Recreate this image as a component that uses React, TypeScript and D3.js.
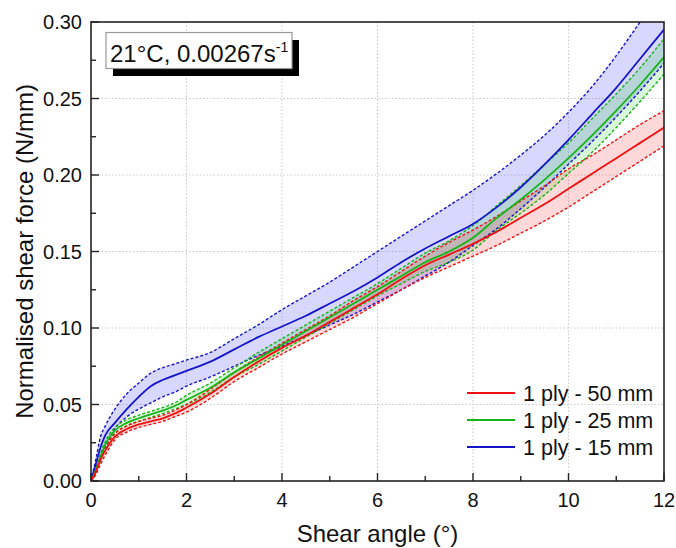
import React from "react";
import * as d3 from "d3";

const angles = [0, 0.1, 0.2, 0.3, 0.5, 0.75, 1.0, 1.25, 1.5, 1.75, 2.0, 2.5, 3.0, 3.5, 4.0, 4.5, 5.0, 5.5, 6.0, 6.5, 7.0, 7.5, 8.0, 8.5, 9.0, 9.5, 10.0, 10.5, 11.0, 11.5, 12.0];

const red50Mean = [0, 0.006, 0.014, 0.020, 0.029, 0.034, 0.037, 0.039, 0.041, 0.044, 0.048, 0.057, 0.068, 0.078, 0.087, 0.095, 0.104, 0.113, 0.122, 0.132, 0.141, 0.148, 0.155, 0.163, 0.172, 0.181, 0.191, 0.201, 0.211, 0.221, 0.231];
const red50Upper = [0, 0.008, 0.016, 0.022, 0.031, 0.036, 0.039, 0.041, 0.043, 0.046, 0.050, 0.060, 0.071, 0.081, 0.090, 0.099, 0.108, 0.118, 0.127, 0.137, 0.147, 0.156, 0.164, 0.173, 0.183, 0.193, 0.204, 0.213, 0.223, 0.233, 0.242];
const red50Lower = [0, 0.004, 0.011, 0.017, 0.027, 0.032, 0.035, 0.037, 0.039, 0.042, 0.045, 0.054, 0.065, 0.074, 0.083, 0.091, 0.099, 0.107, 0.116, 0.125, 0.133, 0.140, 0.147, 0.154, 0.162, 0.170, 0.179, 0.189, 0.199, 0.209, 0.219];

const green25Mean = [0, 0.007, 0.016, 0.024, 0.033, 0.038, 0.041, 0.0435, 0.046, 0.049, 0.053, 0.061, 0.071, 0.080, 0.089, 0.098, 0.107, 0.116, 0.125, 0.134, 0.143, 0.150, 0.159, 0.172, 0.184, 0.197, 0.211, 0.226, 0.242, 0.259, 0.277];
const green25Upper = [0, 0.009, 0.018, 0.026, 0.035, 0.040, 0.043, 0.0455, 0.048, 0.051, 0.056, 0.064, 0.074, 0.084, 0.093, 0.102, 0.111, 0.120, 0.129, 0.139, 0.149, 0.157, 0.167, 0.180, 0.193, 0.207, 0.221, 0.237, 0.253, 0.270, 0.289];
const green25Lower = [0, 0.005, 0.014, 0.022, 0.031, 0.036, 0.039, 0.0415, 0.044, 0.047, 0.050, 0.058, 0.068, 0.076, 0.085, 0.094, 0.103, 0.112, 0.121, 0.129, 0.137, 0.143, 0.151, 0.164, 0.175, 0.187, 0.201, 0.215, 0.231, 0.248, 0.266];

const blue15Mean = [0, 0.011, 0.022, 0.030, 0.038, 0.047, 0.055, 0.062, 0.066, 0.069, 0.072, 0.078, 0.086, 0.094, 0.101, 0.108, 0.116, 0.124, 0.133, 0.143, 0.152, 0.160, 0.168, 0.179, 0.192, 0.207, 0.223, 0.240, 0.257, 0.276, 0.295];
const blue15Upper = [0, 0.014, 0.029, 0.036, 0.047, 0.057, 0.064, 0.0705, 0.074, 0.0765, 0.079, 0.084, 0.093, 0.102, 0.112, 0.121, 0.130, 0.140, 0.150, 0.160, 0.170, 0.180, 0.190, 0.201, 0.213, 0.226, 0.241, 0.258, 0.278, 0.300, 0.322];
const blue15Lower = [0, 0.006, 0.014, 0.022, 0.034, 0.042, 0.047, 0.051, 0.055, 0.058, 0.062, 0.068, 0.075, 0.082, 0.088, 0.095, 0.102, 0.109, 0.117, 0.125, 0.134, 0.143, 0.154, 0.165, 0.178, 0.192, 0.207, 0.222, 0.238, 0.255, 0.273];

const seriesNames = ["1 ply - 50 mm", "1 ply - 25 mm", "1 ply - 15 mm"];
const xTicks = [0, 2, 4, 6, 8, 10, 12];
const yTicks = [0, 0.05, 0.1, 0.15, 0.2, 0.25, 0.3];

const FONT = "'Liberation Sans', Arial, sans-serif";

export default function App() {
  const W = 676, H = 548;
  const L = 91, R = 664, T = 22, B = 481;
  const x = d3.scaleLinear().domain([0, 12]).range([L, R]);
  const y = d3.scaleLinear().domain([0, 0.3]).range([B, T]);

  const series = [
    { name: seriesNames[0], mean: red50Mean, up: red50Upper, lo: red50Lower, line: "#ee1111", fill: "rgba(255,0,0,0.15)" },
    { name: seriesNames[1], mean: green25Mean, up: green25Upper, lo: green25Lower, line: "#17b317", fill: "rgba(0,200,0,0.15)" },
    { name: seriesNames[2], mean: blue15Mean, up: blue15Upper, lo: blue15Lower, line: "#1515c8", fill: "rgba(40,40,255,0.18)" },
  ];

  const line = (vals: number[]) =>
    d3.line<number>().x((_, i) => x(angles[i])).y((d) => y(d)).curve(d3.curveMonotoneX)(vals) || "";
  const area = (lo: number[], up: number[]) =>
    d3.area<number>().x((_, i) => x(angles[i])).y0((_, i) => y(lo[i])).y1((d) => y(d)).curve(d3.curveMonotoneX)(up) || "";

  const xMinor = d3.range(1, 12, 2);
  const yMinor = d3.range(0.025, 0.3, 0.05);
  const drawOrder = [2, 1, 0];

  return (
    <svg width={W} height={H} style={{ position: "absolute", left: 0, top: 0, background: "#fff" }} fontFamily={FONT}>
      <defs>
        <clipPath id="plotClip">
          <rect x={L} y={T} width={R - L} height={B - T} />
        </clipPath>
      </defs>
      {xTicks.slice(1, -1).map((t) => (
        <line key={"gx" + t} x1={x(t)} x2={x(t)} y1={T} y2={B} stroke="#c8c8c8" strokeWidth={1} strokeDasharray="1.5,2" />
      ))}
      {yTicks.slice(1, -1).map((t) => (
        <line key={"gy" + t} x1={L} x2={R} y1={y(t)} y2={y(t)} stroke="#c8c8c8" strokeWidth={1} strokeDasharray="1.5,2" />
      ))}
      <g clipPath="url(#plotClip)">
        {drawOrder.map((i) => (
          <path key={"a" + i} d={area(series[i].lo, series[i].up)} fill={series[i].fill} stroke="none" />
        ))}
        {drawOrder.map((i) => (
          <g key={"d" + i}>
            <path d={line(series[i].up)} fill="none" stroke={series[i].line} strokeWidth={1.4} strokeDasharray="3,2" />
            <path d={line(series[i].lo)} fill="none" stroke={series[i].line} strokeWidth={1.4} strokeDasharray="3,2" />
          </g>
        ))}
        {drawOrder.map((i) => (
          <path key={"m" + i} d={line(series[i].mean)} fill="none" stroke={series[i].line} strokeWidth={1.8} />
        ))}
      </g>
      <rect x={L} y={T} width={R - L} height={B - T} fill="none" stroke="#222" strokeWidth={1.6} />
      {xTicks.map((t) => (
        <line key={"xt" + t} x1={x(t)} x2={x(t)} y1={B} y2={B - 8} stroke="#222" strokeWidth={1.4} />
      ))}
      {xMinor.map((t) => (
        <line key={"xm" + t} x1={x(t)} x2={x(t)} y1={B} y2={B - 5} stroke="#222" strokeWidth={1.4} />
      ))}
      {yTicks.map((t) => (
        <line key={"yt" + t} x1={L} x2={L + 8} y1={y(t)} y2={y(t)} stroke="#222" strokeWidth={1.4} />
      ))}
      {yMinor.map((t) => (
        <line key={"ym" + t} x1={L} x2={L + 5} y1={y(t)} y2={y(t)} stroke="#222" strokeWidth={1.4} />
      ))}
      {xTicks.map((t) => (
        <text key={"xl" + t} x={x(t)} y={507} textAnchor="middle" fontSize={20} fill="#111">{t}</text>
      ))}
      {yTicks.map((t) => (
        <text key={"yl" + t} x={82} y={y(t) + 7} textAnchor="end" fontSize={20} fill="#111">{t.toFixed(2)}</text>
      ))}
      <text x={(L + R) / 2} y={542} textAnchor="middle" fontSize={24} fill="#111">Shear angle (°)</text>
      <text transform={`translate(33,${(T + B) / 2}) rotate(-90)`} textAnchor="middle" fontSize={24} fill="#111">
        Normalised shear force (N/mm)
      </text>
      <rect x={113} y={40} width={186} height={36} fill="#000" />
      <rect x={106} y={32.5} width={186} height={36} fill="#fff" stroke="#999" strokeWidth={1.2} />
      <text x={110} y={62} fontSize={24} fill="#111">
        21°C, 0.00267s<tspan fontSize={14} dy={-10}>-1</tspan>
      </text>
      {series.map((s, i) => (
        <g key={"lg" + i}>
          <line x1={467} x2={515} y1={393 + i * 27} y2={393 + i * 27} stroke={s.line} strokeWidth={2} />
          <text x={523} y={393 + i * 27 + 7.5} fontSize={21.5} fill="#111">{s.name}</text>
        </g>
      ))}
    </svg>
  );
}
